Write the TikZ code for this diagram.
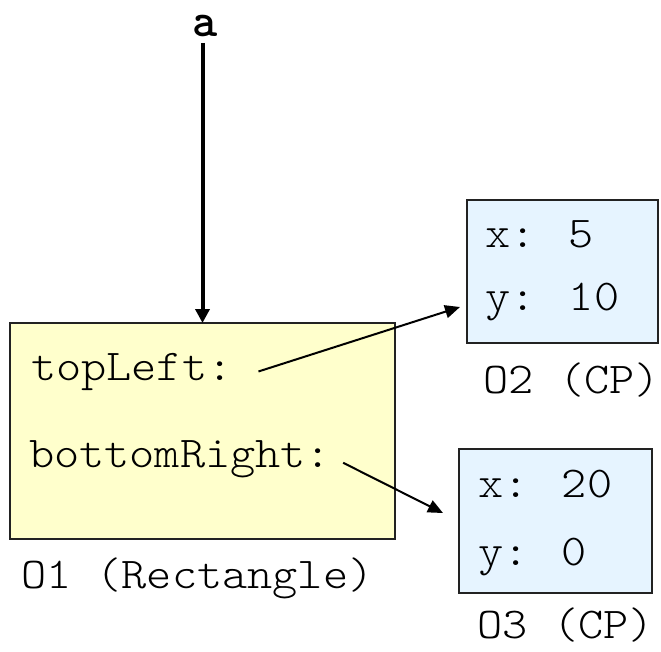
\documentclass[tikz,border=0pt]{standalone}
\usepackage{fontspec}
\usetikzlibrary{arrows.meta,positioning}
\newfontfamily\objfont{lmmonolt10-regular}[Extension=.otf,FakeStretch=1.09]
\newfontfamily\varfont{lmmonolt10-bold}[Extension=.otf]
\definecolor{objYellow}{HTML}{FFFFCC}
\definecolor{objBlue}{HTML}{E6F4FF}
\definecolor{objEdge}{HTML}{222222}

\begin{document}
\begin{tikzpicture}[x=1pt,y=-1pt,
  every node/.style={font=\objfont\fontsize{44}{50}\selectfont,inner sep=0pt,outer sep=0pt},
  objbox/.style={draw=objEdge,line width=2pt,anchor=north west},
  field/.style={anchor=base west},
  objlbl/.style={anchor=base east},
  ref/.style={-{Triangle[length=15pt,width=13pt]},line width=2pt}]
  \useasboundingbox (0,0) rectangle (661,651);
  % variable
  \node[font=\varfont\fontsize{48}{52}\selectfont] (a) at (205,26) {a};
  % O1
  \node[objbox,fill=objYellow,minimum width=385pt,minimum height=216pt] (o1) at (10,323) {};
  \node[field] (tl) at (31,380) {topLeft:};
  \node[field] (br) at (29,467) {bottomRight:};
  \node[anchor=base west] (o1lbl) at (21,588) {O1 (Rectangle)};
  % O2
  \node[objbox,fill=objBlue,minimum width=191pt,minimum height=143pt] (o2) at (467,200) {};
  \node[field] (o2x) at (485,247) {x: 5};
  \node[field] (o2y) at (485,310) {y: 10};
  \node[objlbl] (o2lbl) at (660,393) {O2 (CP)};
  % O3
  \node[objbox,fill=objBlue,minimum width=193pt,minimum height=144pt] (o3) at (459,449) {};
  \node[field] (o3x) at (478,497) {x: 20};
  \node[field] (o3y) at (478,565) {y: 0};
  \node[objlbl] (o3lbl) at (654,638) {O3 (CP)};
  % references
  \coordinate (o2in) at (460,307);
  \coordinate (o3in) at (443,513);
  \draw[-{Triangle[length=14pt,width=14pt]},line width=4pt]
    ([yshift=-6pt]a.south -| o1.north) -- (o1.north);
  \draw[ref] ([xshift=26pt]tl.east) -- (o2in);
  \draw[ref] ([xshift=12pt,yshift=-4pt]br.east) -- (o3in);
\end{tikzpicture}
\end{document}
